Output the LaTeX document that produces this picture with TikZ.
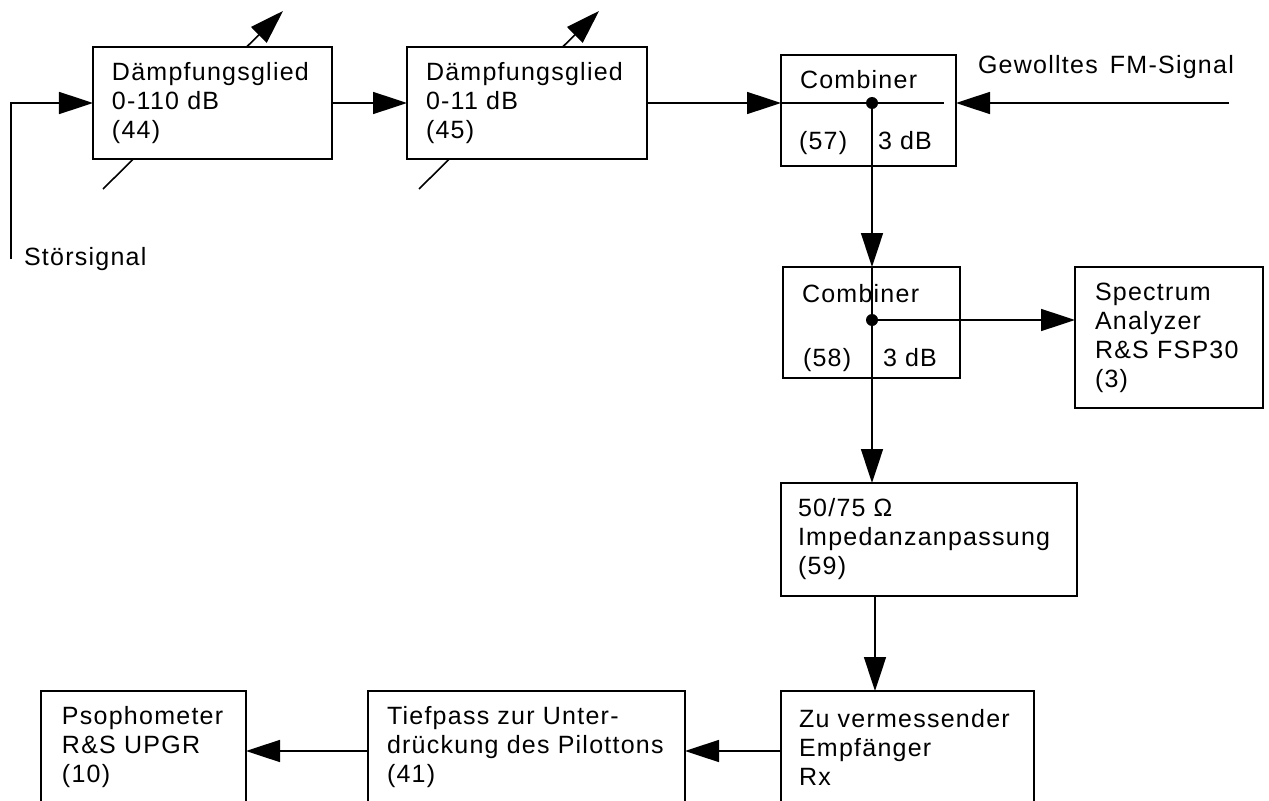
\documentclass[tikz,border=0pt]{standalone}
\usepackage{fontspec}
\setmainfont{Liberation Sans}[LetterSpace=5]
\usetikzlibrary{arrows.meta}

\begin{document}
\begin{tikzpicture}[x=1bp,y=-1bp,
  every node/.style={font=\fontsize{25bp}{29bp}\selectfont},
  box/.style={draw, line width=1.6bp, fill=white, inner sep=0pt, outer sep=0pt},
  txt/.style={inner sep=0pt, outer sep=0pt, align=left, anchor=west},
  lbl/.style={inner sep=0pt, outer sep=0pt, anchor=base west},
  wire/.style={line width=1.6bp},
  arr/.style={wire, -{Triangle[length=34bp,width=22bp]}},
  dot/.style={circle, fill, minimum size=12bp, inner sep=0pt}
]
\useasboundingbox (0,0) rectangle (1269,801);
\clip (0,0) rectangle (1269,801);

% adjustment arrows of the two variable attenuators (boxes cover their middle)
\coordinate (v44a) at (103,189);
\coordinate (v44b) at (283,11);
\coordinate (v45a) at (419,189);
\coordinate (v45b) at (599,11);
\draw[arr] (v44a) -- (v44b);
\draw[arr] (v45a) -- (v45b);

% attenuators
\node[box, minimum width=239bp, minimum height=112bp] (att44) at (212.5,103) {};
\node[txt] (att44t) at ([xshift=19bp]att44.west) {Dämpfungsglied\\0-110 dB\\(44)};
\node[box, minimum width=240bp, minimum height=112bp] (att45) at (527,103) {};
\node[txt] (att45t) at ([xshift=19bp]att45.west) {Dämpfungsglied\\0-11 dB\\(45)};

% combiners
\node[box, minimum width=175bp, minimum height=111bp] (comb57) at (868.5,110.5) {};
\node[lbl] (comb57a) at (800,89) {Combiner};
\node[lbl] (comb57b) at (799,149) {(57)};
\node[lbl] (comb57c) at (878,149) {3 dB};
\node[box, minimum width=177bp, minimum height=111bp] (comb58) at (871.5,322.5) {};
\node[lbl] (comb58a) at (802,302) {Combiner};
\node[lbl] (comb58b) at (803,366) {(58)};
\node[lbl] (comb58c) at (883,366) {3 dB};

% measuring equipment and receiver chain
\node[box, minimum width=188bp, minimum height=141bp] (spec) at (1169,337.5) {};
\node[txt] (spect) at ([xshift=20bp]spec.west) {Spectrum\\Analyzer\\R\&S FSP30\\(3)};
\node[box, minimum width=296bp, minimum height=113bp] (imp59) at (929,539.5) {};
\node[txt] (imp59t) at ([xshift=17bp]imp59.west) {50/75 Ω\\Impedanzanpassung\\(59)};
\node[box, minimum width=253bp, minimum height=112bp] (rx) at (907.5,747) {};
\node[txt] (rxt) at ([xshift=18bp]rx.west) {Zu vermessender\\Empfänger\\Rx};
\node[box, minimum width=317bp, minimum height=112bp] (lp) at (526.5,747) {};
\node[txt] (lpt) at ([xshift=19bp]lp.west) {Tiefpass zur Unter-\\drückung des Pilottons\\(41)};
\node[box, minimum width=205bp, minimum height=112bp] (pso) at (143.5,747) {};
\node[txt] (psot) at ([xshift=21bp]pso.west) {Psophometer\\R\&S UPGR\\(10)};

% signal inputs
\coordinate (src) at (11,259);
\node[lbl] (srct) at (24,265) {Störsignal};
\coordinate (fm) at (1229,103);
\node[lbl] (fmt) at (978,74) {Gewolltes\hspace{4bp} FM-Signal};

% junction points inside the combiners
\node[dot] (j57) at (872,103) {};
\node[dot] (j58) at (872,320) {};
\coordinate (c57r) at (944,103);
\coordinate (p59) at (875,0);
\coordinate (row) at (0,751);

% connections
\draw[arr] (src) |- (att44.west);
\draw[arr] (att44.east) -- (att45.west);
\draw[arr] (att45.east) -- (att45.east -| comb57.west);
\draw[wire] (att45.east -| comb57.west) -- (c57r);
\draw[arr] (fm) -- (fm -| comb57.east);
\draw[arr] (j57) -- (j57 |- comb58.north);
\draw[wire] (j57 |- comb58.north) -- (j58);
\draw[arr] (j58) -- (j58 -| spec.west);
\draw[arr] (j58) -- (j58 |- imp59.north);
\draw[arr] (p59 |- imp59.south) -- (p59 |- rx.north);
\draw[arr] (rx.west |- row) -- (lp.east |- row);
\draw[arr] (lp.west |- row) -- (pso.east |- row);
\end{tikzpicture}
\end{document}
